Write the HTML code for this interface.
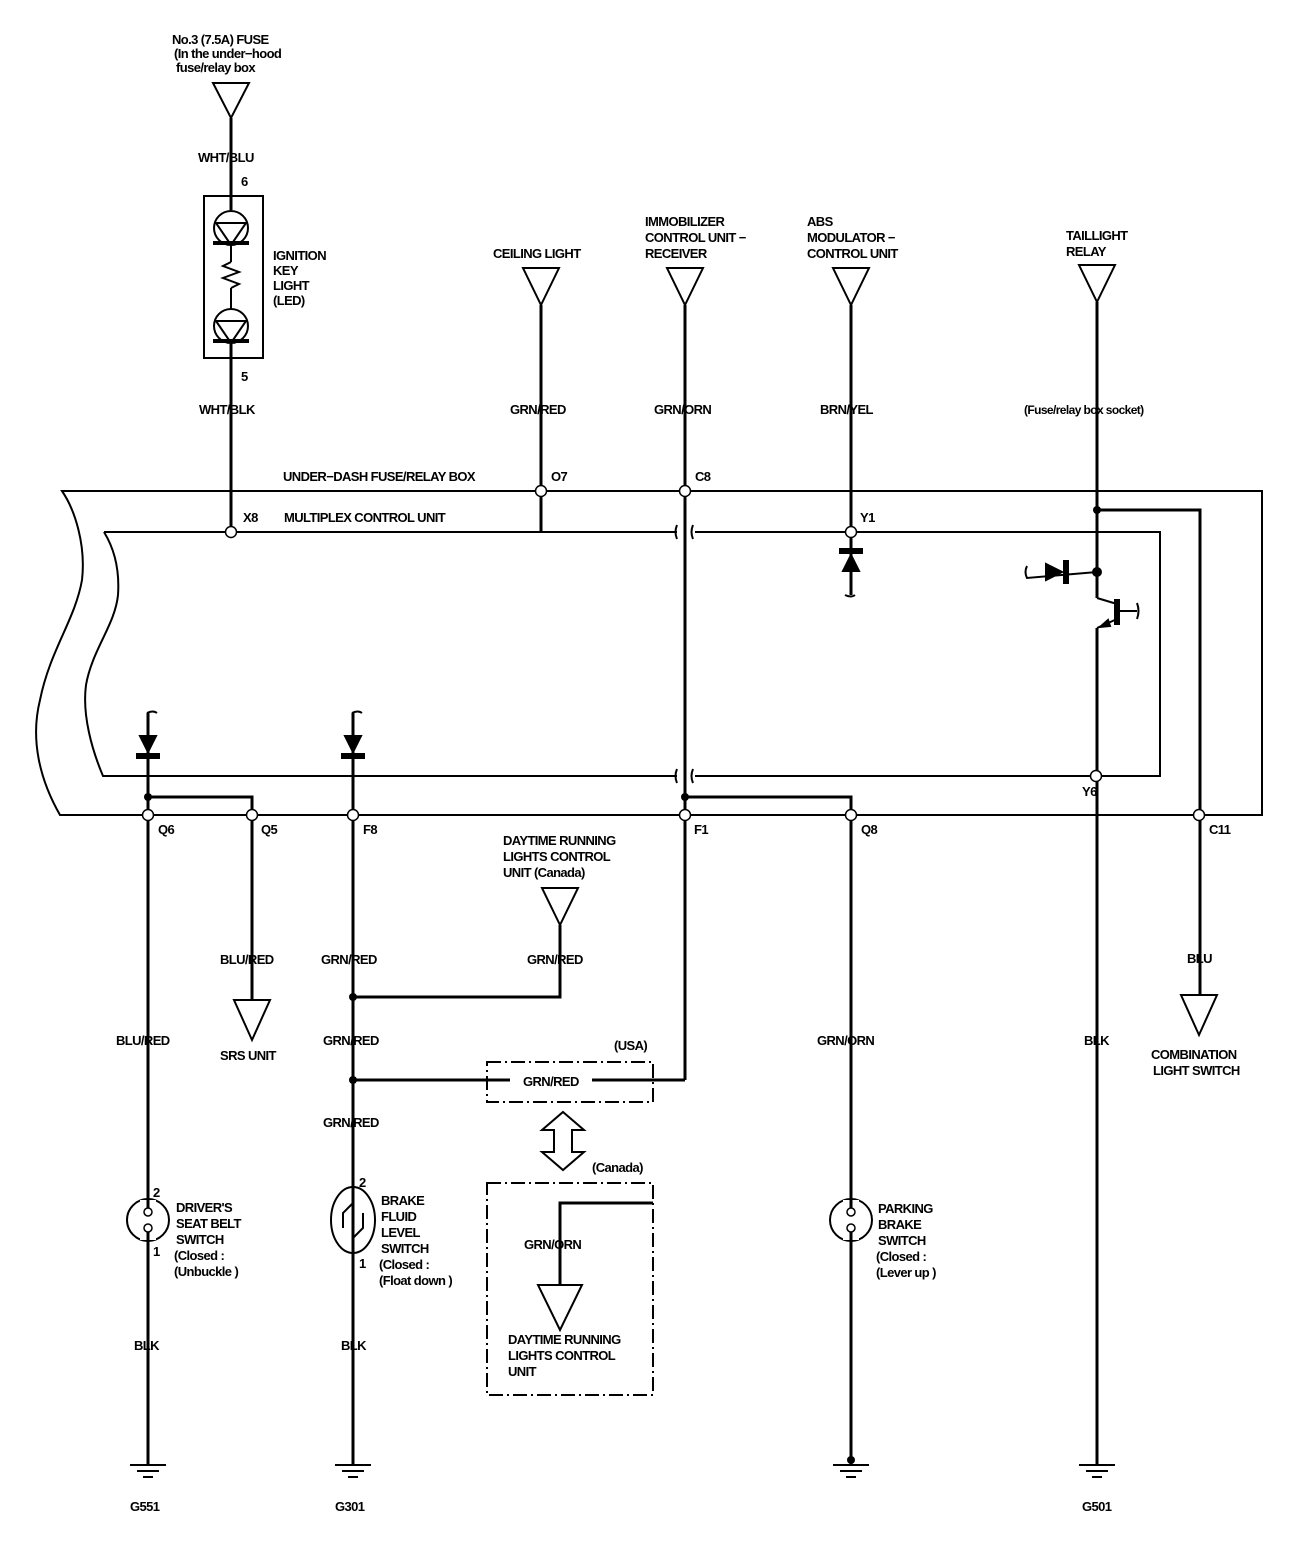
<!DOCTYPE html>
<html><head><meta charset="utf-8"><style>
html,body{margin:0;padding:0;background:#fff}
svg{display:block}
text{font-family:"Liberation Sans",sans-serif;font-weight:bold;font-size:13px;fill:#000;letter-spacing:-0.6px}
</style></head><body>
<svg width="1312" height="1552" viewBox="0 0 1312 1552" xmlns="http://www.w3.org/2000/svg">
<g fill="none" stroke="#000" stroke-width="2">
<!-- outer box -->
<path d="M62,491 L1262,491 L1262,815 L60,815 C40,780 30,740 40,700 C50,650 75,620 82,580 C86,545 75,510 62,491Z"/>
<!-- inner box -->
<path d="M104,532 L677,532 M695,532 L1160,532 L1160,776 L695,776 M677,776 L103,776 C92,750 82,715 86,685 C92,650 115,625 118,595 C120,565 112,545 104,532"/>
<path d="M677,525 q-3,7 0,14 M693,525 q-3,7 0,14 M677,769 q-3,7 0,14 M693,769 q-3,7 0,14"/>
</g>
<g fill="none" stroke="#000" stroke-width="3">
<!-- fuse branch -->
<line x1="231" y1="118" x2="231" y2="210"/>
<line x1="231" y1="344" x2="231" y2="526"/>
<!-- ceiling light -->
<line x1="541" y1="305" x2="541" y2="532"/>
<!-- immobilizer / F1 -->
<line x1="685" y1="305" x2="685" y2="1080"/>
<!-- ABS -->
<line x1="851" y1="305" x2="851" y2="595"/>
<!-- taillight -->
<line x1="1097" y1="302" x2="1097" y2="598"/>
<polyline points="1097,510 1200,510 1200,995"/>
<line x1="1097" y1="628" x2="1097" y2="1465"/>
<!-- Q6 / Q5 -->
<line x1="148" y1="713" x2="148" y2="1465"/>
<polyline points="148,797 252,797 252,1000"/>
<!-- F8 -->
<line x1="353" y1="713" x2="353" y2="1465"/>
<polyline points="353,997 560,997 560,925"/>
<polyline points="353,1080 510,1080"/>
<polyline points="592,1080 685,1080"/>
<!-- F1/Q8 -->
<polyline points="685,797 851,797 851,1465"/>
<!-- canada box wire -->
<polyline points="653,1203 560,1203 560,1285"/>
</g>
<g fill="none" stroke="#000" stroke-width="2">
<!-- LED box -->
<rect x="204" y="196" width="59" height="162"/>
<circle cx="231" cy="228" r="17"/><circle cx="231" cy="326" r="17"/>
<path d="M216,223 L246,223 L231,245 Z M231,246 L231,262 M231,288 L231,309 M216,321 L246,321 L231,343 Z"/>
<polyline points="231,262 223,266 239,272 223,278 239,284 231,288"/>
<!-- top triangles -->
<path d="M213,83 L249,83 L231,118 Z"/>
<path d="M523,268 L559,268 L541,305 Z"/>
<path d="M667,268 L703,268 L685,305 Z"/>
<path d="M833,268 L869,268 L851,305 Z"/>
<path d="M1079,265 L1115,265 L1097,302 Z"/>
<!-- bottom triangles -->
<path d="M234,1000 L270,1000 L252,1040 Z"/>
<path d="M542,888 L578,888 L560,925 Z"/>
<path d="M1181,995 L1217,995 L1199,1035 Z"/>
<path d="M538,1285 L582,1285 L560,1330 Z"/>
<!-- transistor -->
<path d="M1097,598 L1117,604 M1117,619 L1097,628 M1137,611 L1117,611 M1137,603 q3,8 0,16 M1027,566 q-3,6 0,12 L1097,572 M147,713 q6,-3 10,0 M352,713 q6,-3 10,0 M845,595 q6,3 10,0"/>
<!-- dash-dot boxes -->
<rect x="487" y="1062" width="166" height="40" stroke-dasharray="14,4,2,4"/>
<rect x="487" y="1183" width="166" height="212" stroke-dasharray="14,4,2,4"/>
<!-- double arrow -->
<path d="M563,1112 L584,1130 L572,1130 L572,1152 L584,1152 L563,1170 L542,1152 L554,1152 L554,1130 L542,1130 Z"/>
<!-- switches -->
<circle cx="148" cy="1220" r="21"/>
<circle cx="851" cy="1220" r="21"/>
<ellipse cx="353" cy="1220" rx="22" ry="33"/>
<path d="M343,1228 L343,1213 L353,1203 M363,1213 L363,1228 L353,1238"/>
<!-- grounds -->
<path d="M130,1465 L166,1465 M137,1471 L159,1471 M143,1477 L153,1477"/>
<path d="M335,1465 L371,1465 M342,1471 L364,1471 M348,1477 L358,1477"/>
<path d="M833,1465 L869,1465 M840,1471 L862,1471 M846,1477 L856,1477"/>
<path d="M1079,1465 L1115,1465 M1086,1471 L1108,1471 M1092,1477 L1102,1477"/>
</g>
<g fill="#fff" stroke="#000" stroke-width="3">
<rect x="140" y="1200" width="16" height="40" stroke="none"/>
<rect x="843" y="1200" width="16" height="40" stroke="none"/>
</g>
<g fill="none" stroke="#000" stroke-width="3">
<line x1="148" y1="1198" x2="148" y2="1210"/><line x1="148" y1="1230" x2="148" y2="1242"/>
<line x1="851" y1="1198" x2="851" y2="1210"/><line x1="851" y1="1230" x2="851" y2="1242"/>
<line x1="353" y1="1187" x2="353" y2="1203"/><line x1="353" y1="1238" x2="353" y2="1253"/>
</g>
<g fill="#fff" stroke="#000" stroke-width="1.5">
<circle cx="148" cy="1212" r="4"/><circle cx="148" cy="1228" r="4"/>
<circle cx="851" cy="1212" r="4"/><circle cx="851" cy="1228" r="4"/>
</g>
<!-- diodes -->
<g fill="#000" stroke="#000" stroke-width="2">
<path d="M140,736 L156,736 L148,752 Z"/><rect x="137" y="754" width="22" height="4"/>
<path d="M345,736 L361,736 L353,752 Z"/><rect x="342" y="754" width="22" height="4"/>
<path d="M843,571 L859,571 L851,555 Z"/><rect x="840" y="549" width="22" height="4"/>
<path d="M1046,564 L1046,580 L1062,572 Z"/><rect x="1064" y="561" width="4" height="22"/>
<rect x="1115" y="600" width="4" height="24"/>
<path d="M1100,627 L1108,620 L1110,626 Z"/>
<rect x="213" y="241" width="36" height="4" stroke="none"/>
<rect x="213" y="339" width="36" height="4" stroke="none"/>
</g>
<!-- junction dots -->
<g fill="#000">
<circle cx="148" cy="797" r="4"/><circle cx="685" cy="797" r="4"/>
<circle cx="353" cy="997" r="4"/><circle cx="353" cy="1080" r="4"/>
<circle cx="1097" cy="510" r="4"/><circle cx="1097" cy="572" r="5"/>
<circle cx="851" cy="1460" r="4"/>
</g>
<!-- connector circles -->
<g fill="#fff" stroke="#000" stroke-width="1.5">
<circle cx="231" cy="532" r="5.5"/><circle cx="541" cy="491" r="5.5"/><circle cx="685" cy="491" r="5.5"/>
<circle cx="851" cy="532" r="5.5"/><circle cx="1096" cy="776" r="5.5"/>
<circle cx="148" cy="815" r="5.5"/><circle cx="252" cy="815" r="5.5"/><circle cx="353" cy="815" r="5.5"/>
<circle cx="685" cy="815" r="5.5"/><circle cx="851" cy="815" r="5.5"/><circle cx="1199" cy="815" r="5.5"/>
</g>
<rect x="510" y="1072" width="82" height="18" fill="#fff"/>
<!-- labels -->
<text x="172" y="44">No.3 (7.5A) FUSE</text>
<text x="174" y="58">(In the under−hood</text>
<text x="176" y="72">fuse/relay box</text>
<text x="198" y="162">WHT/BLU</text>
<text x="241" y="186">6</text>
<text x="273" y="260">IGNITION</text><text x="273" y="275">KEY</text><text x="273" y="290">LIGHT</text><text x="273" y="305">(LED)</text>
<text x="241" y="381">5</text>
<text x="199" y="414">WHT/BLK</text>
<text x="493" y="258">CEILING LIGHT</text>
<text x="645" y="226">IMMOBILIZER</text><text x="645" y="242">CONTROL UNIT −</text><text x="645" y="258">RECEIVER</text>
<text x="807" y="226">ABS</text><text x="807" y="242">MODULATOR −</text><text x="807" y="258">CONTROL UNIT</text>
<text x="1066" y="240">TAILLIGHT</text><text x="1066" y="256">RELAY</text>
<text x="510" y="414">GRN/RED</text>
<text x="654" y="414">GRN/ORN</text>
<text x="820" y="414">BRN/YEL</text>
<text x="1024" y="414" style="font-size:12px">(Fuse/relay box socket)</text>
<text x="283" y="481">UNDER−DASH FUSE/RELAY BOX</text>
<text x="551" y="481">O7</text>
<text x="695" y="481">C8</text>
<text x="243" y="522">X8</text>
<text x="284" y="522">MULTIPLEX CONTROL UNIT</text>
<text x="860" y="522">Y1</text>
<text x="1082" y="796">Y6</text>
<text x="158" y="834">Q6</text><text x="261" y="834">Q5</text><text x="363" y="834">F8</text>
<text x="694" y="834">F1</text><text x="861" y="834">Q8</text><text x="1209" y="834">C11</text>
<text x="503" y="845">DAYTIME RUNNING</text><text x="503" y="861">LIGHTS CONTROL</text><text x="503" y="877">UNIT (Canada)</text>
<text x="220" y="964">BLU/RED</text>
<text x="321" y="964">GRN/RED</text>
<text x="527" y="964">GRN/RED</text>
<text x="1187" y="963">BLU</text>
<text x="116" y="1045">BLU/RED</text>
<text x="220" y="1060">SRS UNIT</text>
<text x="323" y="1045">GRN/RED</text>
<text x="817" y="1045">GRN/ORN</text>
<text x="1084" y="1045">BLK</text>
<text x="1151" y="1059">COMBINATION</text><text x="1153" y="1075">LIGHT SWITCH</text>
<text x="614" y="1050">(USA)</text>
<text x="523" y="1086">GRN/RED</text>
<text x="323" y="1127">GRN/RED</text>
<text x="592" y="1172">(Canada)</text>
<text x="153" y="1197">2</text><text x="153" y="1256">1</text>
<text x="176" y="1212">DRIVER'S</text><text x="176" y="1228">SEAT BELT</text><text x="176" y="1244">SWITCH</text>
<text x="174" y="1260">(Closed :</text><text x="174" y="1276">(Unbuckle )</text>
<text x="359" y="1187">2</text><text x="359" y="1268">1</text>
<text x="381" y="1205">BRAKE</text><text x="381" y="1221">FLUID</text><text x="381" y="1237">LEVEL</text><text x="381" y="1253">SWITCH</text>
<text x="379" y="1269">(Closed :</text><text x="379" y="1285">(Float down )</text>
<text x="524" y="1249">GRN/ORN</text>
<text x="878" y="1213">PARKING</text><text x="878" y="1229">BRAKE</text><text x="878" y="1245">SWITCH</text>
<text x="876" y="1261">(Closed :</text><text x="876" y="1277">(Lever up )</text>
<text x="508" y="1344">DAYTIME RUNNING</text><text x="508" y="1360">LIGHTS CONTROL</text><text x="508" y="1376">UNIT</text>
<text x="134" y="1350">BLK</text><text x="341" y="1350">BLK</text>
<text x="130" y="1511">G551</text><text x="335" y="1511">G301</text><text x="1082" y="1511">G501</text>
</svg>
</body></html>
